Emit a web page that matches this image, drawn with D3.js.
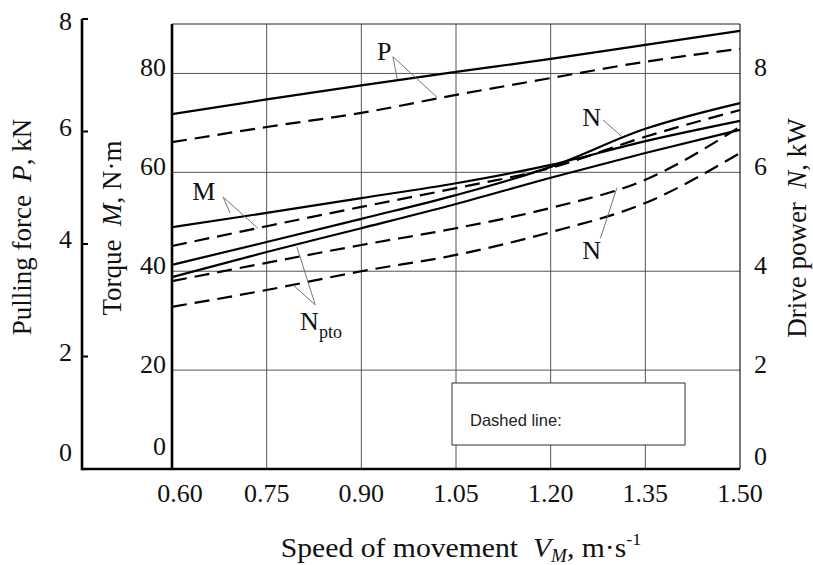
<!DOCTYPE html>
<html>
<head>
<meta charset="utf-8">
<script src="https://cdn.jsdelivr.net/npm/d3@7"></script>
<style>
body { margin: 0; background: #fff; }
text { font-family: "Liberation Serif", "Times New Roman", serif; fill: #111; white-space: pre; }
.grid { stroke: #555; stroke-width: 1; }
.curve { fill: none; stroke: #000; stroke-width: 2.2; }
.leader { stroke: #666; stroke-width: 0.9; }
</style>
</head>
<body>
<script>
// speed of movement, m/s
var speed = [0.60, 0.75, 0.90, 1.05, 1.20, 1.35, 1.50];
var speedLabels = ["0.60", "0.75", "0.90", "1.05", "1.20", "1.35", "1.50"];

// pulling force P, kN
var forceSolid  = [6.31, 6.57, 6.82, 7.06, 7.29, 7.54, 7.79];
var forceDashed = [5.81, 6.08, 6.33, 6.65, 6.95, 7.24, 7.47];
// torque M, N·m
var torqueSolid  = [48.9, 51.8, 54.8, 57.8, 61.5, 66.3, 70.4];
var torqueDashed = [45.1, 49.1, 53.0, 56.8, 60.9, 67.2, 72.6];
// drive power N, kW
var powerSolid  = [4.13, 4.59, 5.06, 5.54, 6.11, 6.88, 7.40];
var powerDashed = [3.80, 4.17, 4.53, 4.87, 5.28, 5.85, 6.92];
// power take-off N_pto, kW
var ptoSolid  = [3.88, 4.39, 4.87, 5.36, 5.89, 6.39, 6.86];
var ptoDashed = [3.28, 3.62, 4.00, 4.33, 4.79, 5.38, 6.39];

var forceTicks = [0, 2, 4, 6, 8];
var torqueTicks = [0, 20, 40, 60, 80];
var powerTicks = [0, 2, 4, 6, 8];

var W = 813, H = 565;
var plot = { left: 172, right: 740, top: 24, bottom: 469 };

var svg = d3.select("body").append("svg")
	.attr("width", W)
	.attr("height", H);

var x = d3.scaleLinear().domain([0.60, 1.50]).range([plot.left, plot.right]);
var yP = d3.scaleLinear().domain([0, 8]).range([plot.bottom, 19]);
var yM = d3.scaleLinear().domain([0, 90]).range([plot.bottom, plot.top]);
var yN = d3.scaleLinear().domain([0, 9]).range([plot.bottom, plot.top]);

// grid
svg.append("g").selectAll("line")
	.data(speed.slice(1, -1))
	.enter().append("line")
	.attr("class", "grid")
	.attr("x1", d => x(d)).attr("x2", d => x(d))
	.attr("y1", plot.top).attr("y2", plot.bottom);

svg.append("g").selectAll("line")
	.data(torqueTicks.slice(1))
	.enter().append("line")
	.attr("class", "grid")
	.attr("x1", plot.left).attr("x2", plot.right)
	.attr("y1", d => yM(d)).attr("y2", d => yM(d));

// legend box (covers the grid)
var box = { x: 452, y: 383, w: 233, h: 62 };
svg.append("rect")
	.attr("x", box.x).attr("y", box.y)
	.attr("width", box.w).attr("height", box.h)
	.style("fill", "#fff").style("stroke", "#333").style("stroke-width", 1);
svg.append("text")
	.attr("x", box.x + 18).attr("y", box.y + 43)
	.style("font-family", "'Liberation Sans', Arial, sans-serif")
	.style("font-size", "16.5px")
	.style("fill", "#222")
	.text("Dashed line:");

// frame
svg.append("line").attr("x1", plot.left).attr("x2", plot.right)
	.attr("y1", plot.top).attr("y2", plot.top)
	.style("stroke", "#222").style("stroke-width", 1.2);
svg.append("line").attr("x1", plot.right).attr("x2", plot.right)
	.attr("y1", plot.top).attr("y2", plot.bottom)
	.style("stroke", "#222").style("stroke-width", 1.2);
svg.append("line").attr("x1", plot.left).attr("x2", plot.left)
	.attr("y1", plot.top).attr("y2", plot.bottom)
	.style("stroke", "#000").style("stroke-width", 2.6);

// pulling force axis
var pAxisX = 82;
svg.append("line").attr("x1", pAxisX).attr("x2", plot.right)
	.attr("y1", plot.bottom).attr("y2", plot.bottom)
	.style("stroke", "#000").style("stroke-width", 2.6);
svg.append("line").attr("x1", pAxisX).attr("x2", pAxisX)
	.attr("y1", yP(8)).attr("y2", plot.bottom + 1.3)
	.style("stroke", "#000").style("stroke-width", 2.6);
svg.append("g").selectAll("line")
	.data(forceTicks.slice(1))
	.enter().append("line")
	.attr("x1", pAxisX).attr("x2", pAxisX + 6)
	.attr("y1", d => yP(d)).attr("y2", d => yP(d))
	.style("stroke", "#000").style("stroke-width", 2);

svg.append("g").selectAll("text")
	.data(forceTicks)
	.enter().append("text")
	.attr("x", 72)
	.attr("y", d => Math.max(30, Math.min(yP(d) + 4, 461)))
	.attr("text-anchor", "end")
	.style("font-size", "26px")
	.text(d => d);

// torque labels
svg.append("g").selectAll("text")
	.data(torqueTicks)
	.enter().append("text")
	.attr("x", plot.left - 6)
	.attr("y", d => Math.min(yM(d) + 3, 455))
	.attr("text-anchor", "end")
	.style("font-size", "26px")
	.text(d => d);

// power labels
svg.append("g").selectAll("text")
	.data(powerTicks)
	.enter().append("text")
	.attr("x", plot.right + 14)
	.attr("y", d => Math.min(yN(d) + 3, 465))
	.attr("text-anchor", "start")
	.style("font-size", "26px")
	.text(d => d);

// speed labels
svg.append("g").selectAll("text")
	.data(speedLabels)
	.enter().append("text")
	.attr("x", (d, i) => x(speed[i]) + (i == 0 ? 8 : 0))
	.attr("y", 502)
	.attr("text-anchor", "middle")
	.style("font-size", "26px")
	.text(d => d);

// curves
var series = [
	{ values: forceSolid, y: yP, dashed: false },
	{ values: forceDashed, y: yP, dashed: true },
	{ values: torqueSolid, y: yM, dashed: false },
	{ values: torqueDashed, y: yM, dashed: true },
	{ values: powerSolid, y: yN, dashed: false },
	{ values: powerDashed, y: yN, dashed: true },
	{ values: ptoSolid, y: yN, dashed: false },
	{ values: ptoDashed, y: yN, dashed: true }
];

svg.append("g").selectAll("path")
	.data(series)
	.enter().append("path")
	.attr("class", "curve")
	.attr("d", s => d3.line()
		.x((d, i) => x(speed[i]))
		.y(d => s.y(d))
		.curve(d3.curveMonotoneX)(s.values))
	.style("stroke-dasharray", s => s.dashed ? "15,8" : null);

// curve labels with leader lines (data units)
var notes = [
	{ label: "P", sub: "", y: yP, at: [0.925, 7.28], from: [0.950, 7.33], to: [[0.957, 6.93], [1.020, 6.61]] },
	{ label: "M", sub: "", y: yM, at: [0.632, 54.4], from: [0.681, 55.0], to: [[0.692, 51.8], [0.736, 48.7]] },
	{ label: "N", sub: "pto", y: yN, at: [0.803, 2.81], from: [0.827, 3.32], to: [[0.798, 4.49], [0.792, 3.72]] },
	{ label: "N", sub: "", y: yN, at: [1.250, 6.94], from: [1.283, 7.06], to: [[1.313, 6.72]] },
	{ label: "N", sub: "", y: yN, at: [1.250, 4.25], from: [1.279, 4.67], to: [[1.305, 5.69]] }
];

var noteG = svg.append("g");
notes.forEach(function (n) {
	n.to.forEach(function (t) {
		noteG.append("line")
			.attr("class", "leader")
			.attr("x1", x(n.from[0])).attr("y1", n.y(n.from[1]))
			.attr("x2", x(t[0])).attr("y2", n.y(t[1]));
	});
	var t = noteG.append("text")
		.attr("x", x(n.at[0])).attr("y", n.y(n.at[1]))
		.style("font-size", "26px")
		.text(n.label);
	if (n.sub) t.append("tspan").attr("dy", 8).style("font-size", "18px").text(n.sub);
});

// axis titles
var leftTitle = svg.append("text")
	.attr("transform", "translate(31,227) rotate(-90)")
	.attr("text-anchor", "middle")
	.style("font-size", "27px");
leftTitle.append("tspan").text("Pulling force  ");
leftTitle.append("tspan").style("font-style", "italic").text("P");
leftTitle.append("tspan").text(", kN");

var torqueTitle = svg.append("text")
	.attr("transform", "translate(121,228) rotate(-90)")
	.attr("text-anchor", "middle")
	.style("font-size", "27px");
torqueTitle.append("tspan").text("Torque  ");
torqueTitle.append("tspan").style("font-style", "italic").text("M");
torqueTitle.append("tspan").text(", N·m");

var rightTitle = svg.append("text")
	.attr("transform", "translate(806,228) rotate(-90)")
	.attr("text-anchor", "middle")
	.style("font-size", "27px");
rightTitle.append("tspan").text("Drive power  ");
rightTitle.append("tspan").style("font-style", "italic").text("N");
rightTitle.append("tspan").text(", kW");

var xTitle = svg.append("text")
	.attr("transform", "translate(461,557) scale(1.06,1)")
	.attr("text-anchor", "middle")
	.style("font-size", "28px");
xTitle.append("tspan").text("Speed of movement  ");
xTitle.append("tspan").style("font-style", "italic").text("V");
xTitle.append("tspan").attr("dy", 5).style("font-style", "italic").style("font-size", "18px").text("M");
xTitle.append("tspan").attr("dy", -5).text(", m·s");
xTitle.append("tspan").attr("dy", -12).style("font-size", "17px").text("-1");
</script>
</body>
</html>
